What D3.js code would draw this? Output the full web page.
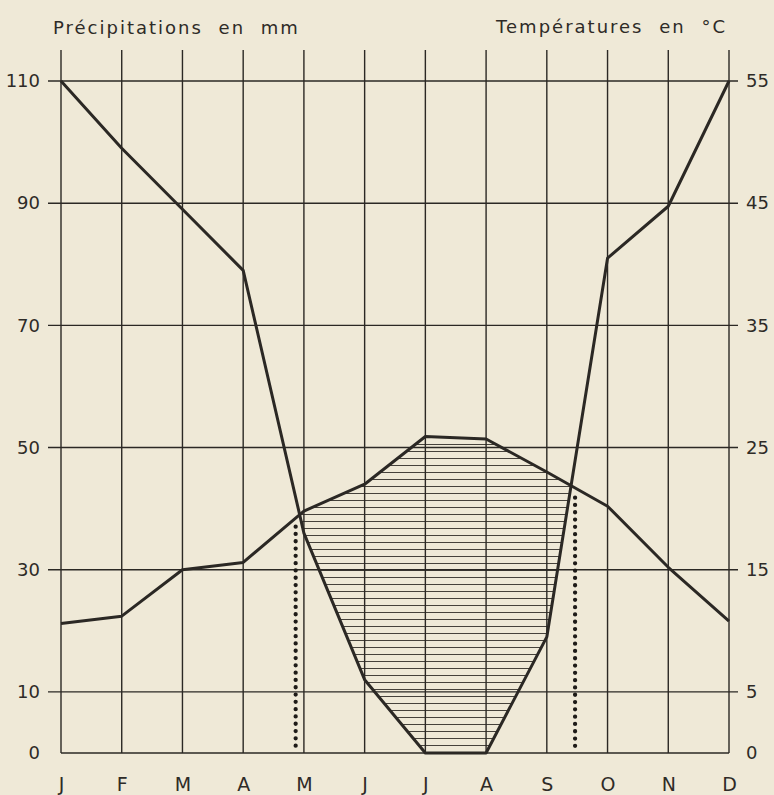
<!DOCTYPE html>
<html>
<head>
<meta charset="utf-8">
<script src="https://cdn.jsdelivr.net/npm/d3@7"></script>
<style>
  body { margin: 0; background: #efe9d7; }
  svg text { font-family: "DejaVu Sans", sans-serif; fill: #2e2b27; }
</style>
</head>
<body>
<svg id="chart"></svg>
<script>
// Ombrothermic diagram: precipitation (mm) and temperature (°C, P = 2T)
const months = ['J', 'F', 'M', 'A', 'M', 'J', 'J', 'A', 'S', 'O', 'N', 'D'];
const precipitation = [110, 99, 89, 79, 36, 12, 0, 0, 19, 81, 89.5, 110];
const temperature = [10.6, 11.2, 15, 15.6, 19.8, 22, 25.9, 25.7, 23, 20.2, 15.2, 10.8];
const precipTicks = [0, 10, 30, 50, 70, 90, 110];
const tempTicks = [0, 5, 15, 25, 35, 45, 55];

const W = 774;
const H = 795;
const ink = '#2b2824';

const svg = d3.select('#chart')
    .attr('width', W)
    .attr('height', H);

svg.append('rect')
    .attr('width', W)
    .attr('height', H)
    .attr('fill', '#efe9d7');

const x = d3.scaleLinear().domain([0, 11]).range([61, 729]);
const yP = d3.scaleLinear().domain([0, 110]).range([753, 81]);
const yT = d3.scaleLinear().domain([0, 55]).range([753, 81]);

// hatch pattern for the dry period
const defs = svg.append('defs');
defs.append('pattern')
    .attr('id', 'hatch')
    .attr('patternUnits', 'userSpaceOnUse')
    .attr('width', 8)
    .attr('height', 7)
  .append('line')
    .attr('x1', 0)
    .attr('x2', 8)
    .attr('y1', 3.5)
    .attr('y2', 3.5)
    .attr('stroke', '#46423b')
    .attr('stroke-width', 1);

// clip: everything above the precipitation curve
const aboveRain = d3.area()
    .x((d, i) => x(i))
    .y0(yP(110))
    .y1(d => yP(d));

defs.append('clipPath')
    .attr('id', 'above-rain')
  .append('path')
    .attr('d', aboveRain(precipitation));

// region below the temperature curve, clipped to above rain
const belowTemp = d3.area()
    .x((d, i) => x(i))
    .y0(yP(0))
    .y1(d => yT(d));

svg.append('path')
    .attr('d', belowTemp(temperature))
    .attr('fill', 'url(#hatch)')
    .attr('clip-path', 'url(#above-rain)');

// grid
const grid = svg.append('g').attr('stroke', ink).attr('stroke-width', 1.4);

grid.selectAll('.vline')
    .data(months)
  .enter().append('line')
    .attr('class', 'vline')
    .attr('x1', (d, i) => x(i))
    .attr('x2', (d, i) => x(i))
    .attr('y1', 50)
    .attr('y2', yP(0));

grid.selectAll('.hline')
    .data(precipTicks)
  .enter().append('line')
    .attr('class', 'hline')
    .attr('x1', d => (d === 0 ? x(0) : x(0) - 13))
    .attr('x2', d => (d === 0 ? x(11) : x(11) + 9))
    .attr('y1', d => yP(d))
    .attr('y2', d => yP(d));

// axes (labels only)
const leftAxis = svg.append('g')
    .attr('transform', `translate(${x(0) - 13}, 0)`)
    .call(d3.axisLeft(yP).tickValues(precipTicks).tickSize(0).tickPadding(8));

const rightAxis = svg.append('g')
    .attr('transform', `translate(${x(11) + 9}, 0)`)
    .call(d3.axisRight(yT).tickValues(tempTicks).tickSize(0).tickPadding(8));

const bottomAxis = svg.append('g')
    .attr('transform', `translate(0, ${yP(0)})`)
    .call(d3.axisBottom(x).tickValues(d3.range(12)).tickFormat(i => months[i]).tickSize(0).tickPadding(25));

[leftAxis, rightAxis, bottomAxis].forEach((g) => {
  g.select('.domain').remove();
  g.selectAll('text')
      .attr('font-family', '"DejaVu Sans", sans-serif')
      .attr('fill', '#2e2b27');
});
leftAxis.selectAll('text').attr('font-size', 18);
rightAxis.selectAll('text').attr('font-size', 18);
bottomAxis.selectAll('text').attr('font-size', 19);

// curves
const rainLine = d3.line()
    .x((d, i) => x(i))
    .y(d => yP(d));

const tempLine = d3.line()
    .x((d, i) => x(i))
    .y(d => yT(d));

svg.append('path')
    .attr('d', rainLine(precipitation))
    .attr('fill', 'none')
    .attr('stroke', ink)
    .attr('stroke-width', 3)
    .attr('stroke-linejoin', 'round');

svg.append('path')
    .attr('d', tempLine(temperature))
    .attr('fill', 'none')
    .attr('stroke', ink)
    .attr('stroke-width', 3)
    .attr('stroke-linejoin', 'round');

// dry-season limits: where the curves cross, dotted verticals just outside
const crossings = [];
for (let i = 0; i < 11; i += 1) {
  const a = 2 * temperature[i] - precipitation[i];
  const b = 2 * temperature[i + 1] - precipitation[i + 1];
  if ((a < 0 && b > 0) || (a > 0 && b < 0)) {
    const t = a / (a - b);
    crossings.push({
      m: i + t,
      v: temperature[i] + t * (temperature[i + 1] - temperature[i]),
      side: a < 0 ? -1 : 1,
    });
  }
}

svg.selectAll('.dry')
    .data(crossings)
  .enter().append('line')
    .attr('class', 'dry')
    .attr('x1', d => x(d.m) + d.side * 4)
    .attr('x2', d => x(d.m) + d.side * 4)
    .attr('y1', d => yT(d.v) + 12)
    .attr('y2', yP(0) - 4)
    .attr('stroke', '#1e1b18')
    .attr('stroke-width', 4.3)
    .attr('stroke-linecap', 'round')
    .attr('stroke-dasharray', '0 7.3');

// titles
svg.append('text')
    .attr('x', 53)
    .attr('y', 34)
    .attr('font-size', 18)
    .attr('letter-spacing', 2)
    .attr('word-spacing', 8)
    .text('Précipitations en mm');

svg.append('text')
    .attr('x', 727)
    .attr('y', 33)
    .attr('text-anchor', 'end')
    .attr('font-size', 18)
    .attr('letter-spacing', 2)
    .attr('word-spacing', 8)
    .text('Températures en °C');
</script>
</body>
</html>
